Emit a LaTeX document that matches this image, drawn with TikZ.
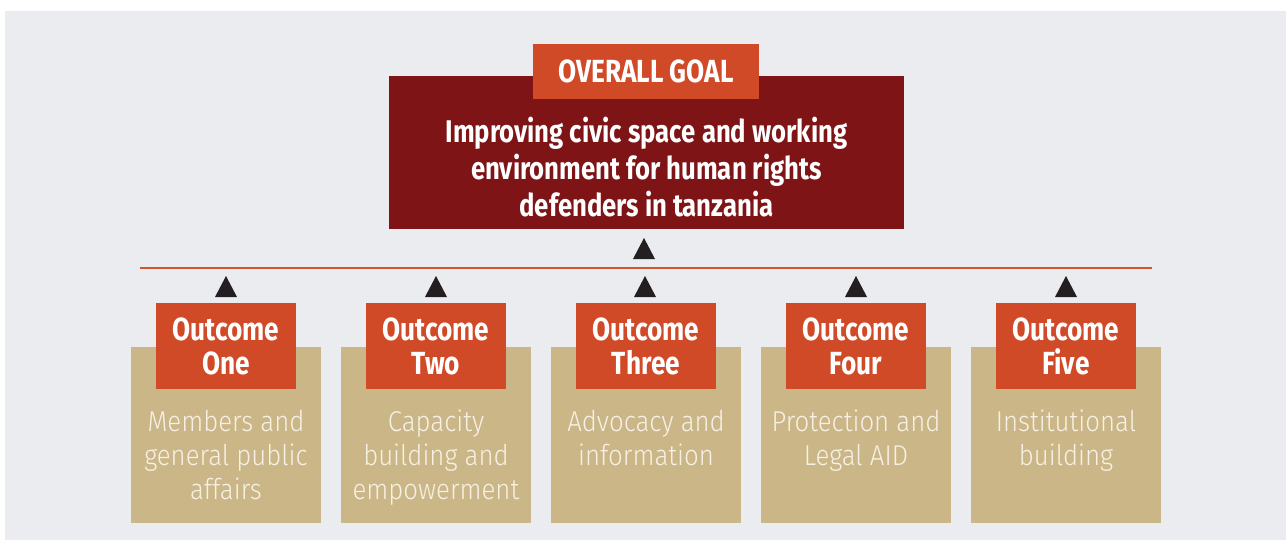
\documentclass[tikz,border=0pt]{standalone}
\usepackage{xcolor}
\usepackage{fontspec}
\usepackage{tikz}

\newfontfamily\headfont{Fira Sans}[FakeStretch=0.82]
\newfontfamily\lightfont{Fira Sans}[UprightFont=* Light, FakeStretch=0.9]

\definecolor{bggray}{HTML}{EBECF0}
\definecolor{goalred}{HTML}{7E1416}
\definecolor{tagred}{HTML}{D14A27}
\definecolor{tan}{HTML}{CBB688}
\definecolor{cream}{HTML}{F6F1E4}
\definecolor{trigray}{HTML}{231F20}
\definecolor{busred}{HTML}{D4552E}

\tikzset{
  goalbox/.style={fill=goalred, inner sep=0pt, minimum width=386.25pt, minimum height=114.75pt},
  goaltag/.style={fill=tagred, text=white, inner sep=0pt, minimum width=169.5pt, minimum height=41.25pt,
    font=\headfont\bfseries\fontsize{24}{26}\selectfont},
  goaltxt/.style={text=white, align=center, inner sep=0pt,
    font=\headfont\bfseries\fontsize{23.5}{27.75}\selectfont},
  areabox/.style={fill=tan, inner sep=0pt, minimum width=142.5pt, minimum height=132pt},
  tagbox/.style={fill=tagred, text=white, align=center, inner sep=0pt,
    minimum width=105pt, minimum height=64.5pt, font=\headfont\bfseries\fontsize{24}{25.5}\selectfont},
  areatxt/.style={text=cream, align=center, inner sep=0pt, anchor=north,
    font=\lightfont\fontsize{21.5}{25.5}\selectfont},
  tri/.style={fill=trigray}
}

\begin{document}
\begin{tikzpicture}[x=0.75pt, y=-0.75pt]
\useasboundingbox (0,0) rectangle (1286,540);
\fill[bggray] (5,11) rectangle (1286,540);

% goal
\node[goalbox] (goal) at (646.5,152.5) {};
\node[goaltag] (goaltag) at (646,71.5) {OVERALL GOAL};
\node[goaltxt] (goaltext) at (646.5,167) {Improving civic space and working\\environment for human rights\\defenders in tanzania};

\fill[tri] (633,259) -- (655,259) -- (644,238) -- cycle;

% bus line
\coordinate (busL) at (140,268);
\coordinate (busR) at (1152,268);
\draw[busred, line width=1.9pt] (busL) -- (busR);

\fill[tri] (215,297) -- (237,297) -- (226,276) -- cycle;
\fill[tri] (425,297) -- (447,297) -- (436,276) -- cycle;
\fill[tri] (634,297) -- (656,297) -- (645,276) -- cycle;
\fill[tri] (845,297) -- (867,297) -- (856,276) -- cycle;
\fill[tri] (1055,297) -- (1077,297) -- (1066,276) -- cycle;

% outcome areas
\node[areabox] (areaA) at (226,435) {};
\node[areabox] (areaB) at (436,435) {};
\node[areabox] (areaC) at (646,435) {};
\node[areabox] (areaD) at (856,435) {};
\node[areabox] (areaE) at (1066,435) {};

\node[tagbox] (tagA) at (226,346) {Outcome\\One};
\node[tagbox] (tagB) at (436,346) {Outcome\\Two};
\node[tagbox] (tagC) at (646,346) {Outcome\\Three};
\node[tagbox] (tagD) at (856,346) {Outcome\\Four};
\node[tagbox] (tagE) at (1066,346) {Outcome\\Five};

\node[areatxt] (txtA) at (226,410) {Members and\\general public\\affairs};
\node[areatxt] (txtB) at (436,410) {Capacity\\building and\\empowerment};
\node[areatxt] (txtC) at (646,410) {Advocacy and\\information};
\node[areatxt] (txtD) at (856,410) {Protection and\\Legal AID};
\node[areatxt] (txtE) at (1066,410) {Institutional\\building};

\end{tikzpicture}
\end{document}
